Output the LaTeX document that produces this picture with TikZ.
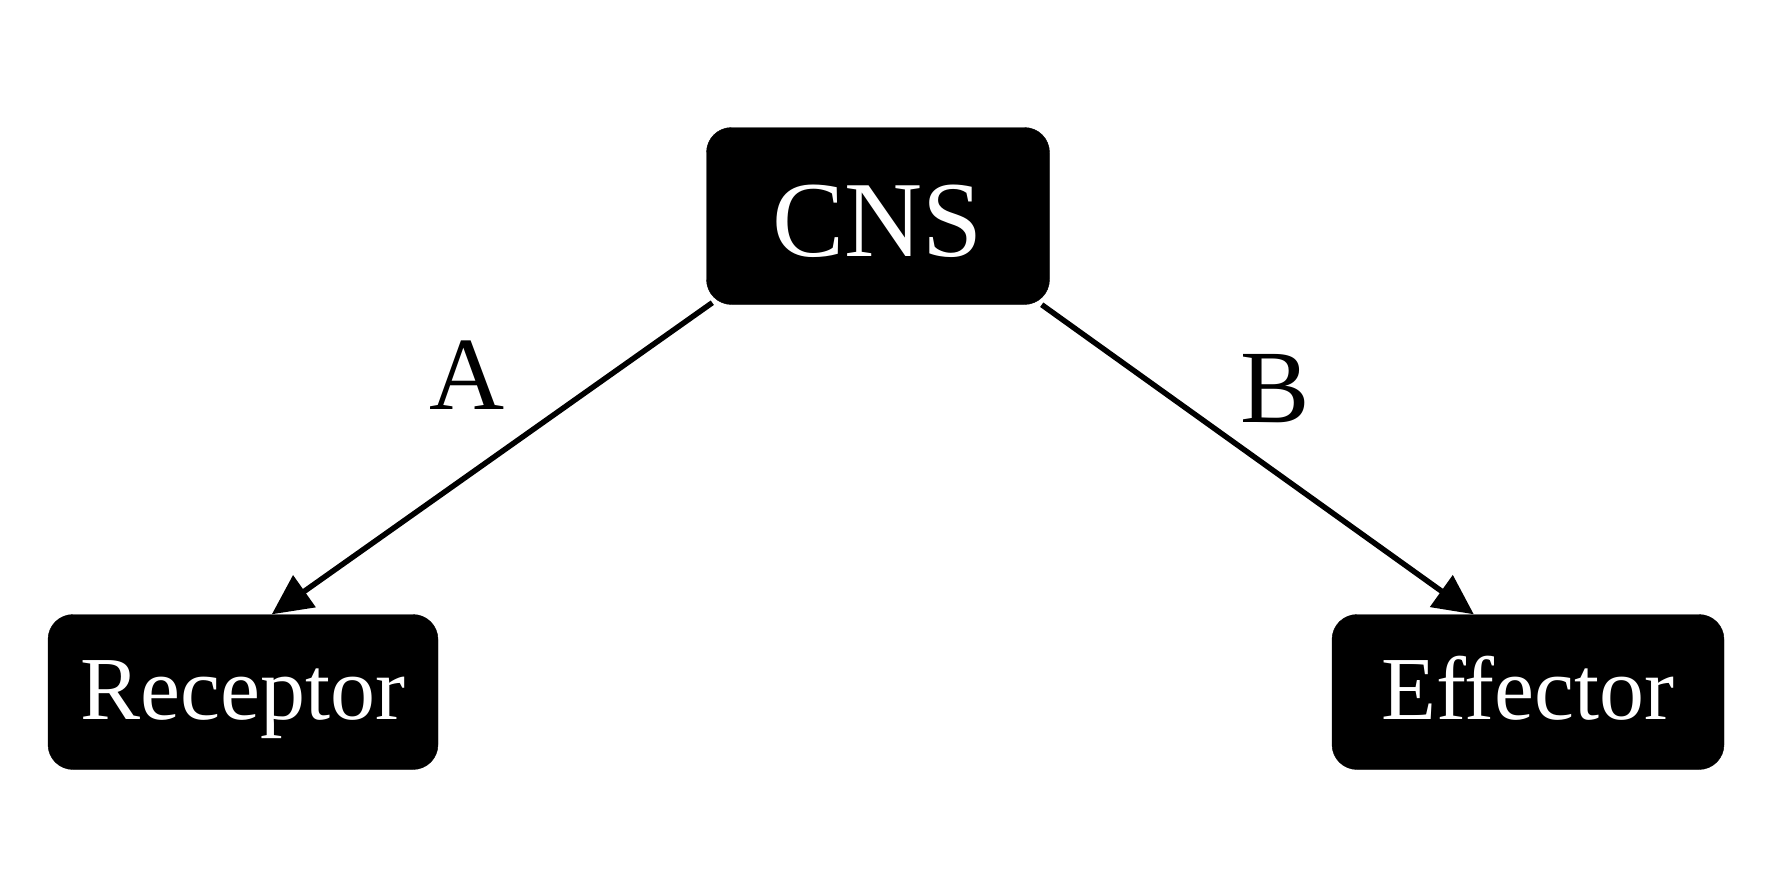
\documentclass[tikz,border=0pt]{standalone}
\usepackage{fontspec}
\setmainfont{Liberation Serif}
\usetikzlibrary{arrows.meta,calc}
\begin{document}
\begin{tikzpicture}[x=1pt,y=-1pt,
  box/.style={draw=black,fill=black,rounded corners=25pt,inner sep=0pt,text=white},
  conn/.style={line width=5.5pt,-{Triangle[length=40pt,width=38pt]}},
  lbl/.style={font=\fontsize{104}{110}\selectfont}]
\useasboundingbox (0,0) rectangle (1774,887);
\node[box,minimum width=343pt,minimum height=177pt,text height=82pt,text depth=2pt,font=\fontsize{108}{115}\selectfont] (cns) at (878,216) {CNS};
\node[box,minimum width=390pt,minimum height=155pt,text height=62pt,text depth=8pt,font=\fontsize{90}{95}\selectfont] (rec) at (243,692) {Receptor};
\node[box,minimum width=392pt,minimum height=155pt,text height=62pt,text depth=8pt,font=\fontsize{90}{95}\selectfont] (eff) at (1528,692) {Effector};
\draw[conn] ($(cns.south west)+(6,-2)$) -- ($(rec.north west)+(224,0)$);
\draw[conn] ($(cns.south east)+(-8,0)$) -- ($(eff.north west)+(142,0)$);
\node[lbl] (la) at (467,375) {A};
\node[lbl] (lb) at (1275,389) {B};
\end{tikzpicture}
\end{document}
